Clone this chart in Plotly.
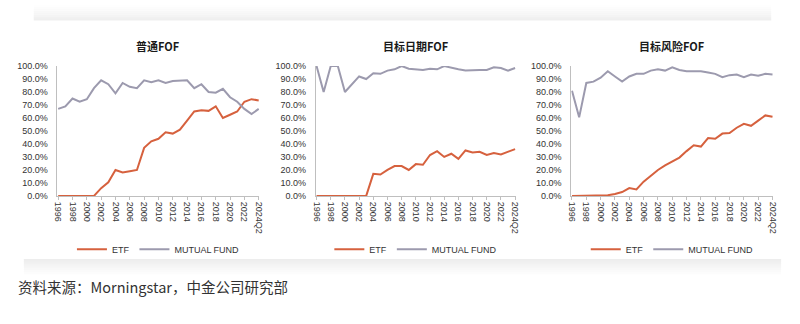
import plotly.graph_objects as go

categories = [str(y) for y in range(1996, 2024)] + ["2024Q2"]
tick_labels = categories[::2]

titles = ["普通FOF", "目标日期FOF", "目标风险FOF"]

etf_regular = [0, 0, 0, 0, 0, 0, 6, 10.5, 20, 18, 19, 20, 37, 42, 44, 49, 48, 51, 58, 65, 66, 65.5, 69, 60, 62.5, 65, 72.5, 74.5, 73.5]
mf_regular = [67, 69, 75, 72.5, 74.5, 83, 89, 86, 79, 87, 84, 83, 89, 87.5, 89, 87, 88.5, 88.5, 89, 83, 86, 80, 79.5, 82.5, 76, 72.5, 67, 63, 67]

etf_date = [0, 0, 0, 0, 0, 0, 0, 0, 17, 16.5, 20, 23, 23, 20, 24.5, 24, 31.5, 34.5, 30, 32.5, 28.5, 35, 33.5, 34, 31.5, 33, 32, 34, 36]
mf_date = [100, 80, 100, 100, 80, 86, 92, 90, 94.5, 94, 96.5, 97.5, 100, 98, 97.5, 97, 98, 97.5, 100, 98.5, 97.5, 96.5, 97, 97, 97, 99, 98.5, 96.5, 98.5]

etf_risk = [0, 0, 0, 0, 0, 0.5, 1.5, 3, 6, 5, 11, 15.5, 20, 23.5, 26.5, 29.5, 34.5, 39, 38, 44.5, 44, 48, 48.5, 52.5, 55.5, 54, 58, 62, 61]
mf_risk = [81, 60.5, 87, 88, 91, 96, 92, 88, 92, 94, 94, 96.5, 97.5, 96.5, 99, 97, 96, 96, 96, 95, 94, 91.5, 93, 93.5, 91.5, 93.5, 92.5, 94, 93.5]

series = [(etf_regular, mf_regular), (etf_date, mf_date), (etf_risk, mf_risk)]

ETF_COLOR = "#D6613E"
MF_COLOR = "#9C9AAE"
W, H = 800, 324

def py(px):
    return 1 - px / H

x_domains = [(54, 258), (315, 517), (573, 777)]
y_domain = [py(197), py(63)]

fig = go.Figure()
layout = dict(
    width=W, height=H, margin=dict(l=0, r=0, t=0, b=0),
    paper_bgcolor="white", plot_bgcolor="white",
    font=dict(family="Liberation Sans, Arial, sans-serif", size=9, color="#333333"),
    showlegend=True, annotations=[], shapes=[],
)

for i, ((etf, mf), title, (x0, x1)) in enumerate(zip(series, titles, x_domains)):
    n = "" if i == 0 else str(i + 1)
    lg = "legend" + n
    fig.add_trace(go.Scatter(x=categories, y=etf, mode="lines", name="ETF",
                             line=dict(color=ETF_COLOR, width=2),
                             xaxis="x" + n, yaxis="y" + n, legend=lg))
    fig.add_trace(go.Scatter(x=categories, y=mf, mode="lines", name="MUTUAL FUND",
                             line=dict(color=MF_COLOR, width=2),
                             xaxis="x" + n, yaxis="y" + n, legend=lg))
    layout["xaxis" + n] = dict(
        domain=[x0 / W, x1 / W], type="category", range=[-0.1, 28.1],
        tickmode="array", tickvals=tick_labels, ticktext=tick_labels,
        tickangle=90, tickfont=dict(size=9, color="#333333"),
        showline=True, linecolor="#BFBFBF", linewidth=1,
        ticks="outside", ticklen=3, tickcolor="#BFBFBF",
        showgrid=False, zeroline=False, anchor="y" + n, fixedrange=True,
    )
    layout["yaxis" + n] = dict(
        domain=y_domain, range=[0, 100], tickvals=list(range(0, 101, 10)),
        ticktext=[f"{v:.1f}%" for v in range(0, 101, 10)],
        tickfont=dict(size=9, color="#333333"), ticklabelstandoff=7,
        showline=True, linecolor="#BFBFBF", linewidth=1,
        showgrid=False, zeroline=False, anchor="x" + n, ticks="",
    )
    cx = (x0 + x1) / 2 / W
    layout[lg] = dict(orientation="h", x=cx, xanchor="center", y=py(237), yanchor="top",
                      font=dict(size=9, color="#333333"), bgcolor="rgba(0,0,0,0)",
                      itemwidth=30, tracegroupgap=0)
    layout["annotations"].append(dict(
        text="<b>" + title + "</b>", x=cx, y=py(42), xref="paper", yref="paper",
        showarrow=False, xanchor="center", yanchor="middle",
        font=dict(family="Noto Sans CJK SC, sans-serif", size=11, color="#1a1a1a")))

layout["annotations"].append(dict(
    text="资料来源：Morningstar，中金公司研究部", x=12 / W, y=py(290),
    xref="paper", yref="paper", showarrow=False, xanchor="left", yanchor="middle",
    font=dict(family="Noto Sans CJK SC, sans-serif", size=14.5, color="#333333")))

# scanned-page shadows (top and bottom of the card)
for k in range(8):
    top = k * 2
    layout["shapes"].append(dict(type="rect", xref="paper", yref="paper",
                                 x0=30 / W, x1=775 / W, y0=py(top + 2), y1=py(top),
                                 fillcolor="#000000", opacity=0.005 + 0.008 * k,
                                 line=dict(width=0), layer="below"))
for k in range(8):
    top = 262 + k * 2
    layout["shapes"].append(dict(type="rect", xref="paper", yref="paper",
                                 x0=20 / W, x1=785 / W, y0=py(top + 2), y1=py(top),
                                 fillcolor="#000000", opacity=0.07 - 0.0085 * k,
                                 line=dict(width=0), layer="below"))

fig.update_layout(**layout)
fig.write_html("out.html")
